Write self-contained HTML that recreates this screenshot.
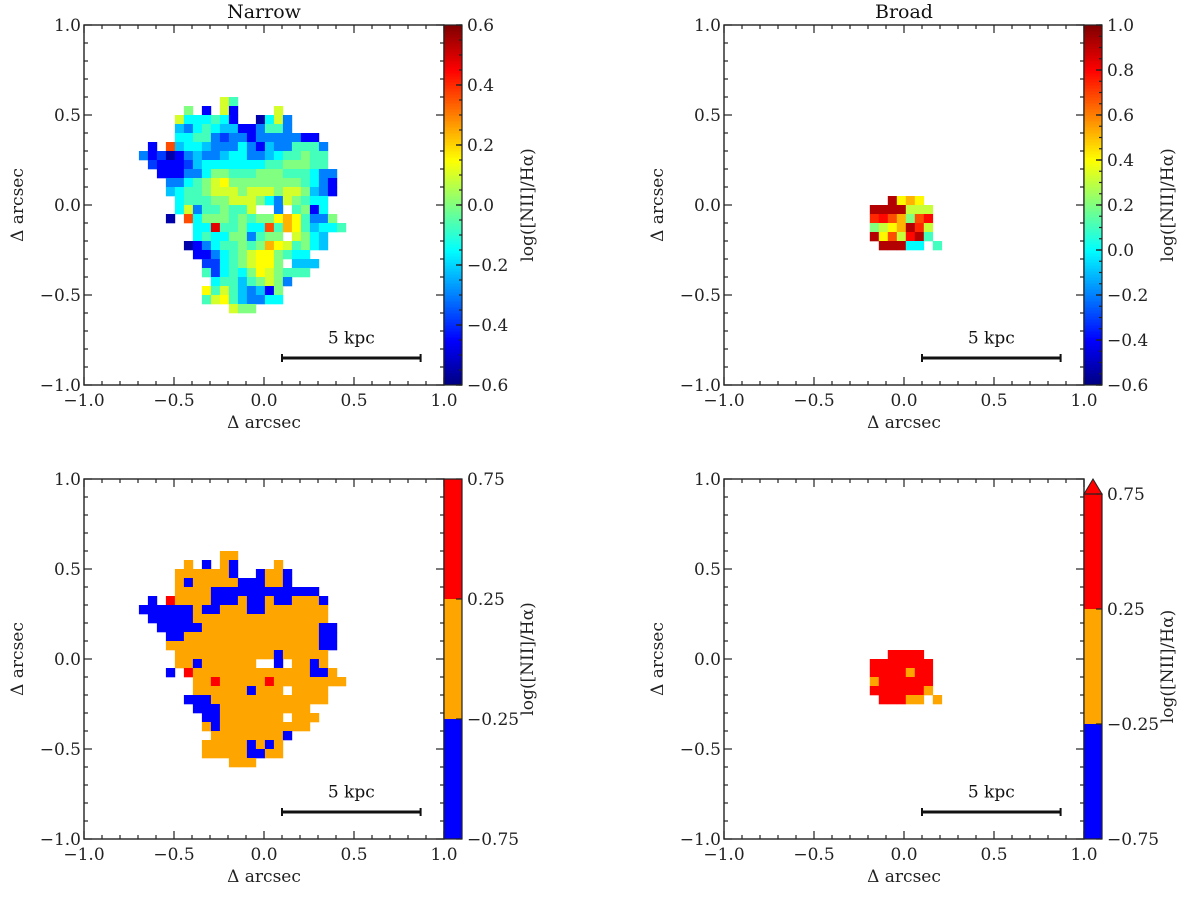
<!DOCTYPE html>
<html><head><meta charset="utf-8"><style>
html,body{margin:0;padding:0;background:#fff}
svg{display:block;font-family:"DejaVu Serif","Liberation Serif",serif}
</style></head><body>
<svg id="fig" width="1200" height="903" viewBox="0 0 1200 903" xmlns="http://www.w3.org/2000/svg"></svg>
<script>
// ---- data ----
const narrowRows = [
".........YA.............",
".....G.B.YB....Y........",
"....YCCCACB..NCYD.......",
"....SDCACSSBBDAAD.......",
"....CCAADRDDBDDDDDBB....",
".B.oSCCSDDDCDBSDDAAAD...",
"DBRNBDSDDSCCDDSCAAGAA...",
".RBBBRSCCCCCCCAAGGGAA...",
"..BBBDDCGGAAAGGGAAACDD..",
"...DDCAGYWGGGGGGGGACDB..",
"...SCAAGYYYGYYYGYYGSDB..",
"....CAAAGGYYYGCDYGACC...",
"....CYDAAGAAY..D.AGBC...",
"...N.oCGGGAGAGGWOWADDG..",
"......CCrAAGCCoAOWASCCA.",
"......CACCGGDAGG.YGCS...",
".....NBDCAAGAGOWYAGCS...",
"......BBDCAGYWWGACC.....",
".......RRCAGYWWG.SSS....",
".......ARCACGWYGAAA.....",
"........CAASAGYGD.......",
".......WAYASDSBG........",
".......AYWASDDCC........",
"..........YGG..........."
];
const broadRows = [
"..KYLY..",
"KKKKXXX.",
"QROLGOR.",
"GXYLKQX.",
"KYOXRKA.",
".KKKCC.A"
];
const narrowLevels = {N:-0.55,B:-0.45,R:-0.38,D:-0.3,S:-0.22,C:-0.15,A:-0.07,G:0.0,Y:0.1,W:0.15,O:0.24,o:0.36,r:0.48};
const broadLevels = {K:0.92,R:0.79,Q:0.74,O:0.68,L:0.52,Y:0.41,X:0.31,G:0.2,A:0.1,C:0.0};
const axisTicks = [-1.0,-0.5,0.0,0.5,1.0];
const narrowCbTicks = [0.6,0.4,0.2,0.0,-0.2,-0.4,-0.6];
const broadCbTicks = [1.0,0.8,0.6,0.4,0.2,0.0,-0.2,-0.4,-0.6];
const catTicks = [0.75,0.25,-0.25,-0.75];
const catBounds = [-0.25,0.25];

// ---- drawing ----
const NS="http://www.w3.org/2000/svg";
const svg=document.getElementById('fig');
const FS=17;
function mk(tag,attrs,parent){const e=document.createElementNS(NS,tag);for(const k in attrs)e.setAttribute(k,attrs[k]);(parent||svg).appendChild(e);return e;}
function fmt(v){const s=Math.abs(v).toFixed(1);return (v<-1e-9?'\u2212':'')+s;}
function fmt2(v){const s=Math.abs(v).toFixed(2);return (v<-1e-9?'\u2212':'')+s;}
function jet(t){t=Math.max(0,Math.min(1,t));const c=x=>Math.round(255*Math.max(0,Math.min(1,x)));
 return `rgb(${c(1.5-Math.abs(4*t-3))},${c(1.5-Math.abs(4*t-2))},${c(1.5-Math.abs(4*t-1))})`;}
function catColor(v){return v<catBounds[0]?'#0000ff':(v<catBounds[1]?'#ffa500':'#ff0000');}

function panel(px,py,name){
 const g=mk('g',{});
 
 
 const W=360,H=360;
 const xs=v=>px+(v+1)/2*W, ys=v=>py+(1-v)/2*H;
 return {g,xs,ys,px,py,W,H};
}
function axesFrame(P){
 const {g,xs,ys,px,py,W,H}=P;
 for(let i=-10;i<=10;i++){const v=i/10;const major=(i%5===0);const L=major?8:4;
  mk('line',{x1:xs(v),y1:py+H,x2:xs(v),y2:py+H-L,stroke:'#222','stroke-width':1.2},g);
  mk('line',{x1:xs(v),y1:py,x2:xs(v),y2:py+L,stroke:'#222','stroke-width':1.2},g);
  mk('line',{x1:px,y1:ys(v),x2:px+L,y2:ys(v),stroke:'#222','stroke-width':1.2},g);
  mk('line',{x1:px+W,y1:ys(v),x2:px+W-L,y2:ys(v),stroke:'#222','stroke-width':1.2},g);}
 const fr=mk('rect',{x:px,y:py,width:W,height:H,fill:'none',stroke:'#222','stroke-width':1.4},g);
 
 axisTicks.forEach(v=>{
  const t=mk('text',{x:xs(v),y:py+H+21,'text-anchor':'middle','font-size':FS,fill:'#222'},g);t.textContent=fmt(v);
  
  const u=mk('text',{x:px-3,y:ys(v)+6,'text-anchor':'end','font-size':FS,fill:'#222'},g);u.textContent=fmt(v);
  
 });
 const xl=mk('text',{x:px+W/2,y:py+H+43,'text-anchor':'middle','font-size':FS,fill:'#222'},g);xl.textContent='\u0394 arcsec';
 
 const yl=mk('text',{x:0,y:0,'text-anchor':'middle','font-size':FS,fill:'#222',transform:`translate(${px-61},${py+H/2}) rotate(-90)`},g);yl.textContent='\u0394 arcsec';
 
 const sb=mk('g',{},g);
 
 const y=ys(-0.85);
 mk('line',{x1:xs(0.1),y1:y,x2:xs(0.87),y2:y,stroke:'#111','stroke-width':3},sb);
 mk('line',{x1:xs(0.1),y1:y-4,x2:xs(0.1),y2:y+4,stroke:'#111','stroke-width':2},sb);
 mk('line',{x1:xs(0.87),y1:y-4,x2:xs(0.87),y2:y+4,stroke:'#111','stroke-width':2},sb);
 const st=mk('text',{x:xs(0.485),y:ys(-0.77),'text-anchor':'middle','font-size':FS,fill:'#111'},sb);st.textContent='5 kpc';
}
function drawMap(P,rows,levels,x0,y0,colorFn){
 const {g,xs,ys}=P;const s=0.05;
 rows.forEach((row,r)=>{[...row].forEach((ch,c)=>{
  if(!(ch in levels))return;const v=levels[ch];
  const x=xs(x0+c*s),y=ys(y0-r*s);
  const rc=mk('rect',{x:x,y:y,width:xs(x0+(c+1)*s)-x+0.3,height:ys(y0-(r+1)*s)-y+0.3,fill:colorFn(v)},g);
  
 });});
}
function cbLabel(x,yc,g){
 const t=mk('text',{x:0,y:0,'text-anchor':'middle','font-size':FS,fill:'#222',transform:`translate(${x},${yc}) rotate(-90)`},g);
 t.textContent='log([NII]/H\u03b1)';
 
}
function contCb(P,vmin,vmax,ticks){
 const x=P.px+P.W, y0=P.py, H=P.H, w=18;
 const g=mk('g',{});
 const n=120;for(let i=0;i<n;i++){const t=(i+0.5)/n;mk('rect',{x:x,y:y0+H-(i+1)*H/n,width:w,height:H/n+0.5,fill:jet(t)},g);}
 mk('rect',{x:x,y:y0,width:w,height:H,fill:'none',stroke:'#222','stroke-width':1.2},g);
 const nm=Math.round((vmax-vmin)/0.05);
 for(let i=0;i<=nm;i++){const yy=y0+H-i/nm*H;mk('line',{x1:x+w-3,y1:yy,x2:x+w,y2:yy,stroke:'#222','stroke-width':1.2},g);}
 ticks.forEach(v=>{const yy=y0+H-(v-vmin)/(vmax-vmin)*H;
  mk('line',{x1:x+w-6,y1:yy,x2:x+w,y2:yy,stroke:'#222','stroke-width':1.4},g);
  const t=mk('text',{x:x+w+5,y:yy+6,'font-size':FS,fill:'#222'},g);t.textContent=fmt(v);
  });
 cbLabel(x+w+71,y0+H/2,g);
}
function catCb(P,tri){
 const x=P.px+P.W, w=18;let top=P.py;const bot=P.py+P.H;
 const g=mk('g',{});
 if(tri){mk('polygon',{points:`${x},${top+15} ${x+w/2},${top} ${x+w},${top+15}`,fill:'#ff0000',stroke:'#222','stroke-width':1},g);top+=15;}
 const vmin=catTicks[catTicks.length-1],vmax=catTicks[0];
 const yv=v=>bot-(v-vmin)/(vmax-vmin)*(bot-top);
 mk('rect',{x:x,y:yv(vmax),width:w,height:yv(catBounds[1])-yv(vmax),fill:'#ff0000'},g);
 mk('rect',{x:x,y:yv(catBounds[1]),width:w,height:yv(catBounds[0])-yv(catBounds[1]),fill:'#ffa500'},g);
 mk('rect',{x:x,y:yv(catBounds[0]),width:w,height:bot-yv(catBounds[0]),fill:'#0000ff'},g);
 mk('rect',{x:x,y:top,width:w,height:bot-top,fill:'none',stroke:'#222','stroke-width':1.2},g);
 catTicks.forEach(v=>{const yy=yv(v);
  mk('line',{x1:x+w-6,y1:yy,x2:x+w,y2:yy,stroke:'#222','stroke-width':1.2},g);
  const t=mk('text',{x:x+w+5,y:yy+6,'font-size':FS,fill:'#222'},g);t.textContent=fmt2(v);
  });
 cbLabel(x+w+71,(top+bot)/2,g);
}

const P1=panel(84,25,'narrow-map-panel');
const P2=panel(724,25,'broad-map-panel');
const P3=panel(84,479,'narrow-class-panel');
const P4=panel(724,479,'broad-class-panel');
drawMap(P1,narrowRows,narrowLevels,-0.695,0.6,v=>jet((v+0.6)/1.2));
drawMap(P2,broadRows,broadLevels,-0.19,0.05,v=>jet((v+0.6)/1.6));
drawMap(P3,narrowRows,narrowLevels,-0.695,0.6,catColor);
drawMap(P4,broadRows,broadLevels,-0.19,0.05,catColor);
[P1,P2,P3,P4].forEach(axesFrame);
contCb(P1,-0.6,0.6,narrowCbTicks);
contCb(P2,-0.6,1.0,broadCbTicks);
catCb(P3,false);
catCb(P4,true);
const t1=mk('text',{x:264,y:18,'text-anchor':'middle','font-size':19,fill:'#111'});t1.textContent='Narrow';


const t2=mk('text',{x:904,y:18,'text-anchor':'middle','font-size':19,fill:'#111'});t2.textContent='Broad';


</script>
</body></html>
